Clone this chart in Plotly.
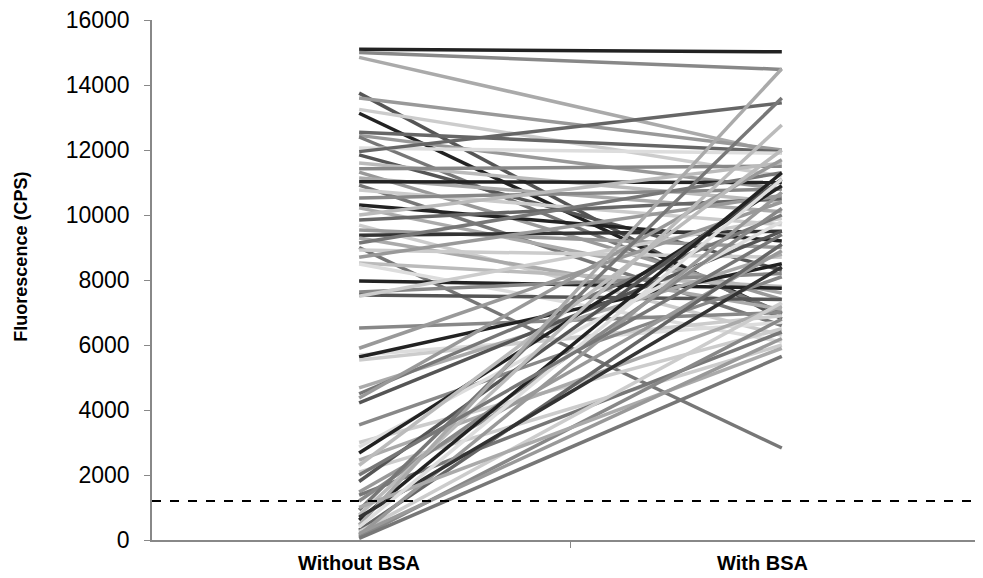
import plotly.graph_objects as go

categories = ["Without BSA", "With BSA"]

without_bsa = [15100, 15000, 14850, 13750, 13600, 13250, 13130, 12550, 12450, 12400,
               12060, 11950, 11850, 11600, 11420, 11320, 11140, 11020, 10920, 10770,
               10520, 10310, 10220, 10000, 9850, 9690, 9540, 9380, 9290, 9140,
               9000, 8920, 8700, 8520, 8490, 7970, 7630, 7540, 7500, 6520,
               5900, 5690, 5630, 5540, 4680, 4500, 4370, 4220, 3540, 3000,
               2860, 2680, 2460, 2300, 2090, 1800, 1480, 1380, 1200, 920,
               770, 615, 460, 300, 250, 150, 90, 50, 700, 1000,
               400, 200, 2000]

with_bsa = [15020, 14480, 11900, 6800, 12000, 11200, 6950, 11950, 10800, 7000,
            11900, 13450, 8300, 10400, 11500, 7400, 10100, 11000, 6600, 9700,
            10800, 9200, 7600, 11600, 10500, 6300, 9000, 9500, 7100, 11300,
            2830, 8700, 10600, 7800, 6100, 7750, 8200, 7400, 9900, 7000,
            10400, 6700, 8500, 6900, 8800, 10000, 11700, 9500, 8100, 6500,
            9800, 10900, 7200, 12000, 6000, 11100, 8900, 6400, 10200, 13600,
            12770, 11300, 14500, 9100, 7300, 10700, 6800, 5650, 8400, 5900,
            11100, 6200, 9400]

line_colors = ["#222222", "#888888", "#aaaaaa", "#555555", "#999999", "#cccccc", "#222222", "#666666", "#999999", "#777777",
               "#dddddd", "#666666", "#555555", "#bbbbbb", "#888888", "#999999", "#aaaaaa", "#222222", "#777777", "#cccccc",
               "#888888", "#222222", "#aaaaaa", "#bbbbbb", "#666666", "#cccccc", "#999999", "#333333", "#aaaaaa", "#777777",
               "#777777", "#cccccc", "#999999", "#bbbbbb", "#dddddd", "#222222", "#888888", "#555555", "#cccccc", "#888888",
               "#999999", "#dddddd", "#222222", "#cccccc", "#aaaaaa", "#777777", "#999999", "#555555", "#888888", "#cccccc",
               "#dddddd", "#222222", "#aaaaaa", "#bbbbbb", "#cccccc", "#555555", "#999999", "#777777", "#888888", "#777777",
               "#bbbbbb", "#222222", "#aaaaaa", "#666666", "#cccccc", "#999999", "#888888", "#777777", "#333333", "#aaaaaa",
               "#dddddd", "#999999", "#777777"]

threshold = 1200
y_ticks = [0, 2000, 4000, 6000, 8000, 10000, 12000, 14000, 16000]
y_tick_labels = ["0", "2000", "4000", "6000", "8000", "10000", "12000", "14000", "16000"]
label_shift = [0, -19]

fig = go.Figure()
xpos = list(range(len(categories)))
for s, e, c in zip(without_bsa, with_bsa, line_colors):
    fig.add_trace(go.Scatter(x=xpos, y=[s, e], mode="lines",
                             line=dict(color=c, width=3.5),
                             showlegend=False, hoverinfo="skip"))

fig.add_shape(type="line", xref="paper", yref="y", x0=0, x1=1, y0=threshold, y1=threshold,
              line=dict(color="black", width=2, dash="dash"))

narrow = "Liberation Sans Narrow, Arial Narrow, Liberation Sans, Arial"

for i, cat in enumerate(categories):
    fig.add_annotation(x=i, y=0, xref="x", yref="y", text="<b>" + cat + "</b>",
                       showarrow=False, yanchor="top", yshift=-10, xshift=label_shift[i],
                       font=dict(family=narrow, size=20, color="black"))

fig.add_annotation(x=-0.157, y=0.544, xref="paper", yref="paper",
                   text="<b>Fluorescence (CPS)</b>", textangle=-90, showarrow=False,
                   xanchor="center", yanchor="middle",
                   font=dict(family=narrow, size=18, color="black"))

fig.update_layout(
    width=975, height=570,
    margin=dict(l=144, r=0, t=12, b=38, autoexpand=False),
    plot_bgcolor="white", paper_bgcolor="white",
    showlegend=False,
)
fig.update_xaxes(range=[-0.49, 1.476], tickvals=[-0.5, 0.5, 1.5], ticktext=["", "", ""],
                 showline=True, linecolor="#888888", linewidth=2, ticks="outside",
                 tickcolor="#888888", ticklen=6, showgrid=False, zeroline=False)
fig.update_yaxes(range=[0, 16000], tickvals=y_ticks, ticktext=y_tick_labels,
                 showline=True, linecolor="#888888",
                 linewidth=1.5, ticks="outside", tickcolor="#888888", ticklen=6,
                 ticklabelstandoff=10, ticklabeloverflow="allow",
                 showgrid=False, zeroline=False,
                 tickfont=dict(family="Liberation Sans, Arial", size=23, color="black"))

fig.write_html("out.html")
